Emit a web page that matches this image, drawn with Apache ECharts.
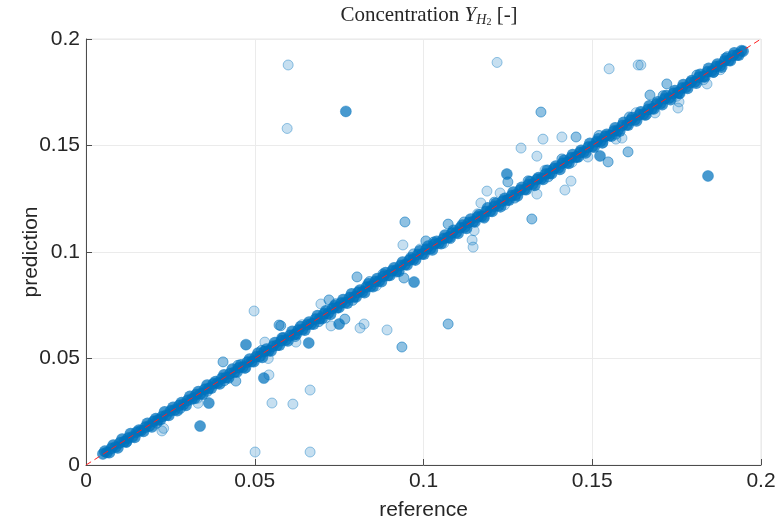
<!DOCTYPE html>
<html>
<head>
<meta charset="utf-8">
<script src="https://cdn.jsdelivr.net/npm/echarts@6/dist/echarts.min.js"></script>
<style>html,body{margin:0;padding:0;background:#fff}#c{width:778px;height:522px}</style>
</head>
<body>
<div id="c"></div>
<script>
// Tick values
const xTicks = [0, 0.05, 0.1, 0.15, 0.2];
const yTicks = [0, 0.05, 0.1, 0.15, 0.2];

// Dark (opaque) points: reference / prediction
const refDark = [0.0050,0.0062,0.0075,0.0088,0.0100,0.0113,0.0125,0.0138,0.0150,0.0163,0.0176,0.0188,0.0200,0.0213,0.0226,0.0238,0.0251,0.0263,0.0276,0.0289,0.0301,0.0314,0.0326,0.0339,0.0352,0.0364,0.0377,0.0390,0.0402,0.0415,0.0427,0.0440,0.0453,0.0465,0.0478,0.0491,0.0503,0.0516,0.0528,0.0541,0.0554,0.0566,0.0579,0.0592,0.0604,0.0617,0.0629,0.0642,0.0655,0.0667,0.0680,0.0693,0.0705,0.0718,0.0730,0.0743,0.0756,0.0768,0.0781,0.0794,0.0806,0.0819,0.0831,0.0844,0.0857,0.0869,0.0882,0.0895,0.0907,0.0920,0.0932,0.0945,0.0958,0.0970,0.0983,0.0996,0.1008,0.1021,0.1033,0.1046,0.1059,0.1071,0.1084,0.1097,0.1109,0.1122,0.1134,0.1147,0.1160,0.1172,0.1185,0.1198,0.1210,0.1223,0.1235,0.1248,0.1261,0.1273,0.1286,0.1299,0.1311,0.1324,0.1336,0.1349,0.1362,0.1374,0.1387,0.1400,0.1412,0.1425,0.1437,0.1450,0.1463,0.1475,0.1488,0.1501,0.1513,0.1526,0.1538,0.1551,0.1564,0.1576,0.1589,0.1602,0.1614,0.1627,0.1639,0.1652,0.1665,0.1677,0.1690,0.1703,0.1715,0.1728,0.1740,0.1753,0.1766,0.1778,0.1791,0.1804,0.1816,0.1829,0.1841,0.1854,0.1867,0.1879,0.1892,0.1905,0.1917,0.1930,0.1942,0.1947,
  0.0770,0.1843,0.0338,0.0474,0.0364,0.0527,0.0660,0.0972,0.0750,0.1247,0.1523];
const predDark = [0.0052,0.0059,0.0078,0.0085,0.0104,0.0110,0.0127,0.0133,0.0154,0.0161,0.0178,0.0184,0.0205,0.0211,0.0228,0.0234,0.0255,0.0259,0.0280,0.0285,0.0304,0.0310,0.0331,0.0334,0.0356,0.0360,0.0382,0.0385,0.0407,0.0411,0.0430,0.0436,0.0457,0.0460,0.0483,0.0486,0.0508,0.0511,0.0533,0.0536,0.0558,0.0562,0.0584,0.0587,0.0609,0.0612,0.0634,0.0637,0.0659,0.0662,0.0685,0.0688,0.0710,0.0713,0.0735,0.0738,0.0761,0.0763,0.0786,0.0789,0.0811,0.0813,0.0836,0.0840,0.0862,0.0864,0.0887,0.0890,0.0912,0.0915,0.0937,0.0941,0.0962,0.0966,0.0988,0.0991,0.1013,0.1016,0.1038,0.1042,0.1063,0.1067,0.1089,0.1092,0.1114,0.1117,0.1139,0.1143,0.1164,0.1168,0.1190,0.1193,0.1215,0.1218,0.1240,0.1244,0.1265,0.1269,0.1291,0.1294,0.1316,0.1319,0.1341,0.1345,0.1366,0.1370,0.1392,0.1395,0.1417,0.1420,0.1442,0.1446,0.1467,0.1471,0.1493,0.1496,0.1518,0.1521,0.1543,0.1547,0.1568,0.1572,0.1594,0.1597,0.1619,0.1622,0.1644,0.1648,0.1669,0.1673,0.1695,0.1698,0.1720,0.1723,0.1745,0.1749,0.1770,0.1774,0.1796,0.1799,0.1821,0.1824,0.1846,0.1850,0.1871,0.1875,0.1897,0.1900,0.1922,0.1925,0.1945,0.1943,
  0.1660,0.1357,0.0183,0.0565,0.0291,0.0408,0.0573,0.0859,0.0662,0.1366,0.1451];

// Dense band points (dark) slightly above / below the identity line
const refBand = [0.0056,0.0069,0.0081,0.0094,0.0107,0.0119,0.0132,0.0144,0.0157,0.0170,0.0182,0.0195,0.0207,0.0220,0.0233,0.0245,0.0258,0.0270,0.0283,0.0296,0.0308,0.0321,0.0333,0.0346,0.0359,0.0371,0.0384,0.0396,0.0409,0.0422,0.0434,0.0447,0.0459,0.0472,0.0485,0.0497,0.0510,0.0522,0.0535,0.0548,0.0560,0.0573,0.0585,0.0598,0.0611,0.0623,0.0636,0.0648,0.0661,0.0674,0.0686,0.0699,0.0711,0.0724,0.0737,0.0749,0.0762,0.0774,0.0787,0.0800,0.0812,0.0825,0.0837,0.0850,0.0863,0.0875,0.0888,0.0900,0.0913,0.0926,0.0938,0.0951,0.0963,0.0976,0.0989,0.1001,0.1014,0.1026,0.1039,0.1052,0.1064,0.1077,0.1089,0.1102,0.1115,0.1127,0.1140,0.1152,0.1165,0.1178,0.1190,0.1203,0.1215,0.1228,0.1241,0.1253,0.1266,0.1278,0.1291,0.1304,0.1316,0.1329,0.1341,0.1354,0.1367,0.1379,0.1392,0.1404,0.1417,0.1430,0.1442,0.1455,0.1467,0.1480,0.1493,0.1505,0.1518,0.1530,0.1543,0.1556,0.1568,0.1581,0.1593,0.1606,0.1619,0.1631,0.1644,0.1656,0.1669,0.1682,0.1694,0.1707,0.1719,0.1732,0.1745,0.1757,0.1770,0.1782,0.1795,0.1808,0.1820,0.1833,0.1845,0.1858,0.1871,0.1883,0.1896,0.1909,0.1921,0.1934];
const predBand = [0.0064,0.0059,0.0093,0.0081,0.0121,0.0110,0.0147,0.0130,0.0163,0.0158,0.0195,0.0180,0.0217,0.0213,0.0249,0.0234,0.0270,0.0256,0.0292,0.0280,0.0322,0.0313,0.0344,0.0333,0.0374,0.0361,0.0391,0.0381,0.0422,0.0410,0.0450,0.0438,0.0469,0.0458,0.0497,0.0486,0.0525,0.0506,0.0543,0.0536,0.0574,0.0563,0.0596,0.0583,0.0627,0.0615,0.0649,0.0634,0.0670,0.0662,0.0701,0.0688,0.0723,0.0708,0.0747,0.0740,0.0776,0.0761,0.0803,0.0790,0.0820,0.0810,0.0850,0.0838,0.0874,0.0861,0.0903,0.0891,0.0925,0.0910,0.0952,0.0940,0.0972,0.0963,0.1005,0.0991,0.1027,0.1011,0.1049,0.1040,0.1079,0.1069,0.1101,0.1088,0.1126,0.1111,0.1154,0.1142,0.1174,0.1165,0.1206,0.1191,0.1228,0.1213,0.1251,0.1244,0.1281,0.1264,0.1303,0.1293,0.1330,0.1313,0.1349,0.1342,0.1383,0.1369,0.1403,0.1389,0.1430,0.1417,0.1457,0.1446,0.1477,0.1466,0.1509,0.1493,0.1530,0.1514,0.1552,0.1545,0.1582,0.1568,0.1608,0.1596,0.1630,0.1616,0.1657,0.1644,0.1685,0.1673,0.1704,0.1693,0.1733,0.1716,0.1757,0.1746,0.1785,0.1769,0.1804,0.1793,0.1833,0.1823,0.1861,0.1846,0.1882,0.1869,0.1908,0.1899,0.1934,0.1925];

// Medium-transparency points
const refMed = [0.0120,0.0210,0.0280,0.0360,0.0410,0.0450,0.0520,0.0580,0.0620,0.0690,0.0740,0.0790,0.0840,0.0880,0.0920,0.0970,0.1030,0.1080,0.1120,0.1180,0.1210,0.1270,0.1310,0.1370,0.1410,0.1460,0.1520,0.1570,0.1610,0.1660,0.1710,0.1760,0.1810,0.1860,0.1900,
  0.0406,0.0444,0.0572,0.0577,0.1073,0.0936,0.0942,0.0803,0.0720,0.0767,0.1348,0.1250,0.1321,0.0945,0.1073,0.1007,0.1721,0.1671,0.1606,0.1547,0.1452];
const predMed = [0.0106,0.0196,0.0266,0.0346,0.0396,0.0468,0.0538,0.0597,0.0603,0.0673,0.0757,0.0773,0.0861,0.0897,0.0906,0.0991,0.1047,0.1063,0.1141,0.1159,0.1234,0.1253,0.1334,0.1353,0.1437,0.1446,0.1547,0.1553,0.1634,0.1643,0.1734,0.1743,0.1831,0.1843,0.1917,
  0.0484,0.0394,0.0657,0.0654,0.0662,0.0554,0.0878,0.0883,0.0775,0.0685,0.1657,0.1329,0.1155,0.1141,0.1131,0.1052,0.1789,0.1737,0.1470,0.1423,0.1540];

// Light (most transparent) points
const refLight = [0.0330,0.0470,0.0640,0.0710,0.0860,0.0990,0.1060,0.1160,0.1240,0.1360,0.1440,0.1530,0.1630,0.1750,0.1830,0.1880,
  0.0599,0.0596,0.1218,0.1550,0.1636,0.1644,0.0498,0.0501,0.0664,0.0664,0.0613,0.0551,0.0332,0.0225,0.0230,0.0530,0.0542,0.0622,0.0540,0.0892,0.0824,0.0812,0.0726,0.0696,0.1354,0.1289,0.1336,0.1188,0.1170,0.1227,0.1336,0.0939,0.1150,0.1144,0.1147,0.1754,0.1757,0.1840,0.1686,0.1487,0.1410,0.1588,0.1570,0.1419,0.1437];
const predLight = [0.0313,0.0453,0.0659,0.0691,0.0841,0.1014,0.1041,0.1179,0.1221,0.1384,0.1421,0.1511,0.1654,0.1731,0.1809,0.1856,
  0.1878,0.1580,0.1890,0.1860,0.1878,0.1878,0.0723,0.0061,0.0061,0.0352,0.0286,0.0291,0.0290,0.0160,0.0172,0.0577,0.0423,0.0577,0.0500,0.0634,0.0662,0.0643,0.0653,0.0756,0.1530,0.1488,0.1450,0.1286,0.1230,0.1277,0.1272,0.1033,0.1100,0.1056,0.1023,0.1676,0.1705,0.1789,0.1653,0.1446,0.1540,0.1535,0.1530,0.1291,0.1333];

// Identity reference line endpoints
const lineRef = [0, 0.2];

const zip = (a, b) => a.map((v, i) => [v, b[i]]);
const blue = a => `rgba(0,114,189,${a})`;
const font = '"Liberation Sans", Arial, Helvetica, sans-serif';
const serif = '"Liberation Serif", "Times New Roman", serif';

const chart = echarts.init(document.getElementById('c'), null, {renderer: 'canvas'});
chart.setOption({
  animation: false,
  backgroundColor: '#fff',
  title: {
    text: '{a|Concentration }{i|Y}{s|H}{ss|2}{a| [-]}',
    left: 424, top: -3, textAlign: 'center',
    textStyle: {
      rich: {
        a: {fontFamily: serif, fontSize: 21, fontWeight: 'normal', color: '#262626', lineHeight: 26},
        i: {fontFamily: serif, fontSize: 21, fontWeight: 'normal', fontStyle: 'italic', color: '#262626', lineHeight: 26},
        s: {fontFamily: serif, fontSize: 14, fontWeight: 'normal', fontStyle: 'italic', color: '#262626', lineHeight: 26, padding: [10, 0, 0, 0]},
        ss: {fontFamily: serif, fontSize: 10, fontWeight: 'normal', color: '#262626', lineHeight: 26, padding: [15, 0, 0, 0]}
      }
    }
  },
  grid: {left: 86, right: 17, top: 39, bottom: 57, containLabel: false, outerBoundsMode: 'none',
    show: true, borderColor: '#e6e6e6', borderWidth: 1},
  xAxis: {
    type: 'value', min: xTicks[0], max: xTicks[xTicks.length - 1], interval: 0.05,
    name: 'reference', nameLocation: 'middle', nameGap: 35, nameMoveOverlap: false,
    nameTextStyle: {fontFamily: font, fontSize: 21, color: '#262626'},
    axisLine: {show: true, onZero: false, lineStyle: {color: '#4d4d4d', width: 1}},
    axisTick: {show: true, inside: true, length: 6, lineStyle: {color: '#4d4d4d'}},
    axisLabel: {fontFamily: font, fontSize: 21, color: '#262626', margin: 6,
      formatter: v => String(+v.toFixed(2))},
    splitLine: {show: true, lineStyle: {color: '#ebebeb', width: 1}}
  },
  yAxis: {
    type: 'value', min: yTicks[0], max: yTicks[yTicks.length - 1], interval: 0.05,
    name: 'prediction', nameLocation: 'middle', nameGap: 44, nameMoveOverlap: false,
    nameTextStyle: {fontFamily: font, fontSize: 21, color: '#262626'},
    axisLine: {show: true, onZero: false, lineStyle: {color: '#4d4d4d', width: 1}},
    axisTick: {show: true, inside: true, length: 6, lineStyle: {color: '#4d4d4d'}},
    axisLabel: {fontFamily: font, fontSize: 21, color: '#262626', margin: 6,
      formatter: v => String(+v.toFixed(2))},
    splitLine: {show: true, lineStyle: {color: '#ebebeb', width: 1}}
  },
  series: [
    {type: 'scatter', data: zip(refLight, predLight), symbolSize: 10,
      itemStyle: {color: blue(0.28), borderColor: blue(0.5), borderWidth: 1}},
    {type: 'scatter', data: zip(refMed, predMed), symbolSize: 10,
      itemStyle: {color: blue(0.55), borderColor: blue(0.7), borderWidth: 1}},
    {type: 'scatter', data: zip(refBand, predBand), symbolSize: 12,
      itemStyle: {color: blue(0.92), borderWidth: 0}},
    {type: 'scatter', data: zip(refDark, predDark), symbolSize: 11,
      itemStyle: {color: blue(0.9), borderColor: blue(0.9), borderWidth: 0.5}},
    {type: 'line', data: [[lineRef[0], lineRef[0]], [lineRef[1], lineRef[1]]], symbol: 'none', z: 5,
      lineStyle: {color: '#ff2020', width: 1, type: [6, 4]}}
  ]
});
</script>
</body>
</html>
